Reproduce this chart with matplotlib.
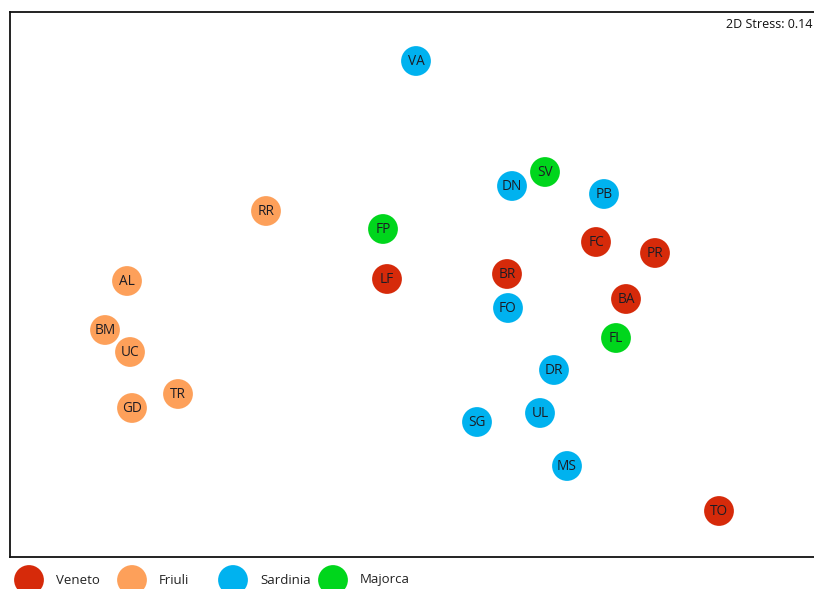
import numpy as np
import matplotlib
matplotlib.use("Agg")
import matplotlib.pyplot as plt

plt.rcParams['font.family'] = ['Open Sans', 'DejaVu Sans']

# NMDS site scores (screen-like units, y grows downward)
sites = ['VA', 'SV', 'DN', 'PB', 'RR', 'FP', 'FC', 'PR', 'LF', 'BR', 'AL', 'BA',
         'FO', 'BM', 'UC', 'FL', 'DR', 'TR', 'GD', 'SG', 'UL', 'MS', 'TO']
x_vals = [416, 545, 512, 604, 266, 383, 596, 655, 387, 507, 127, 626,
          508, 105, 130, 616, 554, 178, 132, 477, 540, 567, 719]
y_vals = [61, 172, 186, 194, 211, 229, 242, 253, 279, 274, 281, 299,
          308, 330, 352, 338, 370, 394, 408, 422, 413, 466, 511]
regions = ['Sardinia', 'Majorca', 'Sardinia', 'Sardinia', 'Friuli', 'Majorca',
           'Veneto', 'Veneto', 'Veneto', 'Veneto', 'Friuli', 'Veneto',
           'Sardinia', 'Friuli', 'Friuli', 'Majorca', 'Sardinia', 'Friuli',
           'Friuli', 'Sardinia', 'Sardinia', 'Sardinia', 'Veneto']

legend_names = ['Veneto', 'Friuli', 'Sardinia', 'Majorca']
colors = {'Veneto': '#d62a0a', 'Friuli': '#fda05a',
          'Sardinia': '#00b2ef', 'Majorca': '#00d61c'}
stress = 0.14

fig = plt.figure(figsize=(8.14, 5.89), dpi=100)
ax = fig.add_axes([10/814, 32/589, 820/814, 545/589])
ax.set_xlim(10, 830)
ax.set_ylim(557, 12)
ax.set_xticks([])
ax.set_yticks([])
for s in ax.spines.values():
    s.set_linewidth(1.3)
    s.set_color('#111111')

for name, x, y, reg in zip(sites, x_vals, y_vals, regions):
    ax.scatter(x, y, s=460, color=colors[reg], edgecolors='none', zorder=2)
    ax.text(x, y + 0.5, name, ha='center', va='center', fontsize=9.8,
            color='#1c1c24', zorder=3)

fig.text(812/814, 1 - 25/589, f"2D Stress: {stress}", ha='right', va='center',
         fontsize=9, color='#111111')

# legend strip at the bottom
lax = fig.add_axes([0, 0, 1, 32/589])
lax.set_xlim(0, 814)
lax.set_ylim(32, 0)
lax.axis('off')
leg_x = [29, 132, 233, 333]
for name, lx in zip(legend_names, leg_x):
    lax.scatter(lx, 23, s=460, color=colors[name], edgecolors='none', clip_on=False)
    lax.text(lx + 27, 23, name, ha='left', va='center', fontsize=9.5, color='#222222')

fig.savefig('out.png', dpi=100)
